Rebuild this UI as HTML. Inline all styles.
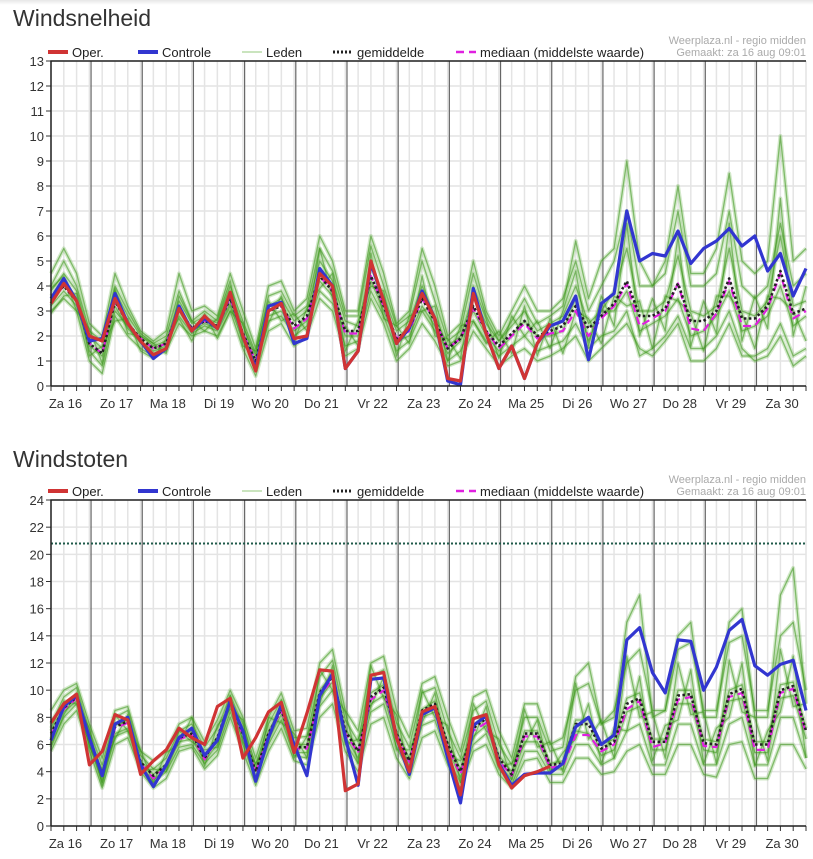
<!DOCTYPE html>
<html><head><meta charset="utf-8">
<style>
body{margin:0;background:#fff;width:813px;height:859px;overflow:hidden;font-family:"Liberation Sans",sans-serif;}
#topbar{position:absolute;left:0;top:0;width:813px;height:5px;background:linear-gradient(#e6e6e6,#fff);}
.title{position:absolute;left:13px;font-size:23px;color:#333;}
svg{position:absolute;left:0;top:0;}
</style></head>
<body>
<div id="topbar"></div>
<div class="title" style="top:5px">Windsnelheid</div>
<div class="title" style="top:446px">Windstoten</div>
<svg id="s" width="813" height="859"></svg>
<script>
const dayLabels=["Za 16","Zo 17","Ma 18","Di 19","Wo 20","Do 21","Vr 22","Za 23","Zo 24","Ma 25","Di 26","Wo 27","Do 28","Vr 29","Za 30"];
// Windsnelheid
const wsOper=[3.3,4.1,3.4,2.0,1.8,3.5,2.5,1.8,1.25,1.5,3.1,2.2,2.8,2.3,3.75,2.0,0.6,3.0,3.3,1.9,2.0,4.5,4.0,0.7,1.4,5.0,3.4,1.7,2.4,3.7,2.7,0.3,0.2,3.7,2.1,0.7,1.6,0.3,1.7,2.5];
const wsCtrl=[3.5,4.3,3.4,1.8,1.9,3.7,2.5,1.8,1.1,1.5,3.2,2.2,2.7,2.3,3.7,2.0,0.7,3.2,3.35,1.7,1.9,4.7,4.0,0.7,1.4,4.9,3.4,1.7,2.3,3.8,2.7,0.2,0.05,3.9,2.1,0.7,1.6,0.3,1.7,2.4,2.6,3.6,1.05,3.3,3.7,7.0,5.0,5.3,5.2,6.2,4.9,5.5,5.8,6.3,5.6,6.0,4.6,5.3,3.6,4.7];
const wsMean=[3.5,4.0,3.4,1.7,1.3,3.4,2.5,1.9,1.5,1.7,3.1,2.3,2.6,2.4,3.5,2.1,1.0,3.0,3.2,2.4,2.8,4.4,3.8,2.2,2.2,4.4,3.2,1.9,2.3,3.5,2.6,1.5,1.9,3.2,2.2,1.6,2.1,2.6,2.0,2.2,2.4,3.2,2.3,2.8,3.3,4.2,2.8,2.8,3.1,4.1,2.6,2.6,3.0,4.3,2.7,2.7,3.2,4.6,2.9,3.1];
const wsMedian=[3.4,4.0,3.4,1.7,1.3,3.4,2.5,1.9,1.5,1.7,3.1,2.3,2.6,2.4,3.5,2.1,1.0,3.0,3.2,2.3,2.7,4.4,3.8,2.1,2.1,4.4,3.2,1.9,2.2,3.5,2.6,1.5,1.9,3.1,2.2,1.5,2.0,2.5,1.9,2.1,2.2,3.0,2.0,2.7,3.2,4.1,2.4,2.7,3.0,4.1,2.3,2.2,2.9,4.2,2.4,2.4,3.1,4.5,2.7,3.0];
const wsM1=[4.5,5.5,4.5,2.5,2,4.5,3.2,2.2,1.8,2.2,4.5,3,3.2,2.8,4.5,3,1.5,4,4.2,3,3.5,6,5,3,3,6,4.5,2.5,3,5.5,4,2,2.5,5,3,2,3,4,3,3,3.5,5,3,4,5,7,4,4,4.5,7,4,4,4.5,7,4,3.5,4,6.5,4,4.5];
const wsM2=[3,3.5,3,1,0.5,2.8,2,1.5,1.2,1.4,2.5,2,2.2,2,3,1.5,0.4,2.2,2.5,1.6,2,3.5,3,1.2,1.5,3.5,2.5,1,1.5,2.5,1.8,0.8,1,2.2,1.5,0.8,1.2,1.5,1,1.2,1.5,2,1,1.5,2,2.5,1.5,1.2,1.8,2.5,1,1,1.5,2.5,1.2,1.2,1.5,2.5,1.2,1.5];
const wsM3=[3.8,4.5,3.8,2,1.5,3.8,2.8,2,1.6,1.8,3.4,2.5,2.8,2.5,3.8,2.4,1.2,3.2,3.5,2.6,3,5,4.2,2.6,2.4,4.8,3.6,2.2,2.6,4,2.8,1.6,2,3.6,2.5,1.8,2.4,3,2.2,2.5,2.8,4,2.5,3,3.8,5.5,3,3,3.4,5.2,3,2.8,3.2,5.5,3,2.8,3.4,6,3.2,3.4];
const wsM4=[3.2,3.8,3.2,1.6,1.2,3.2,2.3,1.8,1.4,1.6,3,2.2,2.5,2.3,3.3,2,0.9,2.8,3,2.2,2.6,4.2,3.6,2,2,4.2,3,1.8,2,3.2,2.4,1.3,1.8,3,2,1.4,2,2.6,2,2,2.2,3.5,1.8,3,3,3.8,2.2,2.5,2.8,3.5,2,2.2,2.8,3.8,2.2,2.4,2.8,4,2.4,2.8];
const wsM5=[4,5,4,2.2,1.8,4,3,2.1,1.7,2,3.8,2.6,3,2.6,4,2.6,1.3,3.6,3.8,2.8,3.2,5.5,4.6,2.8,2.8,5.6,4,2.4,2.8,5,3.4,1.8,2.2,4.5,2.8,1.8,2.6,3.5,2.5,2.8,3.2,5.8,3.5,5,5.5,9,5,4,5,8,4.5,4.5,5.5,8.5,5,4.5,5,10,5,5.5];
const wsM6=[3.6,4.2,3.5,1.4,0.8,3,2.4,1.7,1.3,1.5,2.8,2.1,2.4,2.2,3.2,1.8,0.7,2.6,2.8,2,2.4,3.8,3.3,1.6,1.8,3.8,2.8,1.4,1.8,3,2.2,1,1.4,2.6,1.8,1.2,1.6,2,1.4,1.6,1.8,2.5,1.5,2,2.2,3,1.2,1.5,2,2.8,1.5,1.5,2,3,1.5,1,1.2,2,0.8,1.2];
const wsM7=[3.9,4.4,3.0,2.3,0.9,3.9,2.1,2.0,1.7,1.3,3.6,2.6,2.2,2.7,4.2,1.6,1.4,3.4,2.6,2.9,2.2,5.5,3.5,2.4,1.6,5.3,2.7,2.4,1.7,4.4,2.0,1.9,1.1,4.0,2.7,1.1,2.8,2.0,2.6,1.5,3.0,4.6,1.6,3.6,2.4,6.5,2.0,3.5,2.2,6.0,1.6,3.4,2.1,6.5,1.8,3.6,2.3,7.5,2.0,4.0];
const wsM8=[2.9,3.6,3.7,1.2,1.6,2.6,2.7,1.4,1.1,1.9,2.7,1.8,2.9,1.9,3.0,2.5,0.8,2.5,3.6,1.8,3.1,3.9,4.5,1.4,2.6,4.0,3.8,1.2,2.8,3.0,3.2,1.0,2.4,2.6,1.7,2.2,1.3,3.2,1.2,2.7,1.3,3.0,2.7,1.7,3.6,3.2,3.4,1.5,3.6,3.4,2.9,1.4,3.6,3.6,2.9,1.5,3.6,3.5,3.0,1.8];
const wsTicks=[0,1,2,3,4,5,6,7,8,9,10,11,12,13];
// Windstoten
const wgOper=[7.6,9.0,9.7,4.5,5.5,8.2,7.8,3.8,4.8,5.6,7.2,6.5,6.0,8.8,9.4,5.0,6.5,8.4,9.1,5.4,8.3,11.5,11.4,2.6,3.1,11.1,11.3,6.5,4.0,8.4,8.8,5.5,2.3,7.9,8.2,4.5,2.8,3.7,4.0,4.4];
const wgCtrl=[6.3,8.8,9.6,6.5,3.7,7.5,8.0,4.5,2.9,4.5,6.5,7.2,5.2,6.3,9.2,7.0,3.3,6.5,8.9,6.0,3.7,9.6,11.2,6.5,3.0,10.8,10.9,6.5,3.8,8.2,8.7,5.0,1.7,7.4,8.1,4.6,3.0,3.8,3.9,3.9,4.6,7.3,8.0,6.0,6.7,13.7,14.6,11.3,9.8,13.7,13.6,10.0,11.7,14.4,15.2,11.8,11.1,11.9,12.2,8.5];
const wgMean=[6.8,8.7,9.5,6.5,3.8,7.3,7.7,4.7,3.7,4.5,6.5,6.8,5.0,6.5,9.2,6.8,4.0,6.8,8.6,5.8,5.8,9.8,11.0,7.0,5.5,9.5,10.2,6.8,4.8,8.5,9.0,6.0,4.0,7.2,7.9,5.0,3.8,6.8,6.8,4.5,4.6,7.5,7.5,5.7,6.2,9.0,9.4,6.2,6.2,9.6,9.7,6.1,6.0,9.7,10.1,6.0,6.0,10.0,10.3,7.0];
const wgMedian=[6.7,8.6,9.4,6.4,3.7,7.2,7.6,4.6,3.5,4.4,6.4,6.7,4.9,6.4,9.1,6.7,3.9,6.7,8.5,5.7,5.7,9.6,10.8,6.8,5.4,9.3,10.0,6.7,4.7,8.3,8.8,5.8,3.8,7.0,7.6,4.8,3.7,6.6,6.6,4.3,4.4,6.7,6.7,5.5,6.0,8.6,9.2,5.8,6.1,9.3,9.5,5.9,5.8,9.5,9.8,5.6,5.6,9.8,10.1,6.8];
const wgM1=[8.5,10,10.5,7.5,5,8.5,8.8,5.5,4.8,5.5,7.5,8,6.2,7.8,10,8,5,8,9.8,7,7.2,12,13,8.5,7,12,12.5,8.5,6.5,10.5,11,8,5.5,9.5,10,7,5,9,9,6,6.5,10,10.5,7.5,8.5,12,13,8.5,8.5,13,13.5,8.5,8.5,13.5,14,8.5,8.5,14,15,10];
const wgM2=[5.5,7.5,8.5,5.5,2.8,6,6.5,4,2.8,3.5,5.5,5.8,4.2,5.2,8,5.5,3,5.5,7.2,4.8,4.5,8,9,5.5,4,7.5,8,5,3.5,6.5,7,4.5,2.8,5.5,6,3.8,2.8,4.8,5,3.2,3.2,5,5,3.8,4,5.5,6,3.8,3.8,6,6,3.8,3.6,6,6.2,3.5,3.5,6,6,4.2];
const wgM3=[7,8.8,9.6,6.5,4,7.4,7.8,4.8,3.8,4.6,6.6,7,5.2,6.6,9.2,7,4.2,7,8.8,6,6,10,11.2,7.2,5.6,9.8,10.4,7,5,8.6,9.2,6.2,4.2,7.4,8.2,5.2,4,7,7,4.6,4.8,7.8,7.8,6,6.4,9.4,9.8,6.4,6.4,10,10,6.4,6.2,10,10.4,6.2,6.2,10.4,10.6,7.2];
const wgM4=[6.4,8.4,9.2,6,3.4,6.8,7.2,4.4,3.4,4.2,6.2,6.4,4.8,6,8.8,6.4,3.6,6.4,8.2,5.4,5.4,9.4,10.6,6.6,5,9,9.6,6.4,4.4,8,8.4,5.6,3.6,6.6,7.4,4.6,3.4,6.2,6.2,4.2,4.2,7,6.8,5.2,5.6,8.4,8.8,5.6,5.6,9,9,5.6,5.4,9.2,9.4,5.4,5.4,9.4,9.6,6.4];
const wgM5=[7.5,9.5,10.2,7,4.5,8,8.5,5.2,4.2,5,7,7.5,5.8,7.2,9.6,7.5,4.5,7.5,9.3,6.5,6.6,11,12.2,7.8,6.2,11,11.5,7.6,5.8,9.8,10.2,7,5,8.5,9.2,6,4.5,8,8,5.5,5.8,11,12,7.5,8,15,17,8,8.5,14,15,8,8,15,16,8,8,17,19,9];
const wgM6=[6,8,9,6,3.2,6.6,7,4.2,3.2,4,5.8,6,4.6,5.6,8.4,6,3.4,6,7.8,5.2,5,8.8,10,6.2,4.6,8.4,9,5.8,4,7.4,7.8,5,3.2,6,6.8,4.2,3,5.5,5.5,3.8,3.8,6,6,4.5,5,7,7.5,4.5,4.5,7.5,7.5,4.5,4.5,7.5,8,4.5,4.5,8,8,5];
const wgM7=[7.2,9.2,9.0,7.2,3.0,8.2,7.0,5.6,3.2,5.4,6.0,8.0,4.4,7.4,8.6,7.8,3.4,8.0,7.6,6.8,5.0,11.5,10.0,8.4,4.6,11.8,9.4,8.2,4.0,10.0,8.0,7.4,3.2,9.0,7.0,6.4,3.4,8.6,5.8,6.2,4.0,10.5,6.4,7.8,5.0,12.5,8.0,8.4,5.0,12.0,8.2,8.4,4.6,12.2,8.4,8.0,4.8,13.0,8.8,9.0];
const wgM8=[5.8,8.2,9.8,5.8,4.2,6.4,8.2,4.0,4.2,4.0,7.0,6.2,5.6,5.8,9.6,6.2,4.6,6.2,9.2,5.0,6.6,9.0,11.8,6.0,6.4,8.8,11.0,5.6,5.6,7.6,9.8,5.2,4.8,6.4,8.8,4.4,4.6,6.0,7.8,4.0,5.4,6.4,9.0,4.6,7.2,7.0,11.0,4.8,7.4,7.8,11.5,4.6,7.2,8.0,12.0,4.4,7.0,8.4,12.5,5.0];
const wgTicks=[0,2,4,6,8,10,12,14,16,18,20,22,24];
const wgThreshold=20.8;

const NS="http://www.w3.org/2000/svg";
const svg=document.getElementById('s');
function mk(tag,attrs,parent){const e=document.createElementNS(NS,tag);for(const k in attrs)e.setAttribute(k,attrs[k]);(parent||svg).appendChild(e);return e;}
const X0=51,X1=806,NPTS=60,STEP=(X1-X0)/(NPTS-1);
const DAYW=STEP*4;
function xAt(i){return X0+STEP*i;}

function chart(cfg){
  const g=mk('g',{});
  
  
  const yMax=cfg.ticks[cfg.ticks.length-1];
  const yS=v=>cfg.bottom-(cfg.bottom-cfg.top)*v/yMax;
  const minorStep=cfg.ticks[1]-cfg.ticks[0];
  for(let v=0;v<=yMax;v+=minorStep){
    const l=mk('line',{x1:X0,x2:X1,y1:yS(v),y2:yS(v),stroke:'#e4e4e4','stroke-width':1.5},g);
    
    
  }
  for(let i=0;i<NPTS;i++){
    const l=mk('line',{x1:xAt(i),x2:xAt(i),y1:cfg.top,y2:cfg.bottom,stroke:'#e4e4e4','stroke-width':1.5},g);
    
    
    const t=mk('line',{x1:xAt(i),x2:xAt(i),y1:cfg.bottom,y2:cfg.bottom+5,stroke:'#333','stroke-width':1},g);
    
    
  }
  const firstDay=X0+STEP*3.13;
  for(let k=0;k<14;k++){
    const x=firstDay+DAYW*k;
    const l=mk('line',{x1:x,x2:x,y1:cfg.top,y2:cfg.bottom,stroke:'#666','stroke-width':1.2},g);
    
    
  }
  dayLabels.forEach((d,k)=>{
    const t=mk('text',{x:firstDay+DAYW*(k-0.5),y:cfg.bottom+22,'text-anchor':'middle','font-size':13,fill:'#333'},g);
    t.textContent=d;
    
    
  });
  cfg.ticks.forEach(v=>{
    const t=mk('text',{x:X0-7,y:yS(v)+5,'text-anchor':'end','font-size':13,fill:'#333'},g);
    t.textContent=v;
    
    
    const m=mk('line',{x1:X0-5,x2:X0,y1:yS(v),y2:yS(v),stroke:'#333'},g);
    
    
  });
  function line(arr,attrs,name){
    const d=arr.map((v,i)=>(i?'L':'M')+xAt(i).toFixed(1)+','+yS(v).toFixed(1)).join(' ');
    const p=mk('path',Object.assign({d:d,fill:'none','stroke-linejoin':'round'},attrs),g);
    
    
  }
  cfg.members.forEach(m=>line(m,{stroke:'#6cb64e','stroke-opacity':0.3,'stroke-width':4},'member-band'));
  cfg.members.forEach(m=>line(m,{stroke:'#3a961a','stroke-opacity':0.55,'stroke-width':1.3},'member-line'));
  if(cfg.threshold!==undefined){
    const l=mk('line',{x1:X0,x2:X1,y1:yS(cfg.threshold),y2:yS(cfg.threshold),stroke:'#1f5a4a','stroke-width':2,'stroke-dasharray':'2,2'},g);
    
    
  }
  line(cfg.median,{stroke:'#e020e0','stroke-width':2.2,'stroke-dasharray':'8,5'},'median-line');
  line(cfg.mean,{stroke:'#222','stroke-width':2.6,'stroke-dasharray':'2.5,2.5'},'mean-line');
  line(cfg.ctrl,{stroke:'#3236d0','stroke-width':3.2},'control-line');
  line(cfg.oper,{stroke:'#d03434','stroke-width':3.2},'oper-line');
  const ax=mk('path',{d:`M${X0},${cfg.bottom} L${X0},${cfg.top} L${X1},${cfg.top}`,fill:'none',stroke:'#222','stroke-width':1.5},g);
  
  
  const bx=mk('line',{x1:X0,x2:X1,y1:cfg.bottom,y2:cfg.bottom,stroke:'#222','stroke-width':1.5},g);
  
  
  const ly=cfg.top-9;
  const items=[['Oper.',{stroke:'#d03434','stroke-width':4},48,'legend-oper'],['Controle',{stroke:'#3236d0','stroke-width':4},138,'legend-controle'],['Leden',{stroke:'#b8dca8','stroke-width':1.5},242,'legend-leden'],['gemiddelde',{stroke:'#222','stroke-width':3,'stroke-dasharray':'2,2'},333,'legend-gemiddelde'],['mediaan (middelste waarde)',{stroke:'#e020e0','stroke-width':2.5,'stroke-dasharray':'8,5'},456,'legend-mediaan']];
  items.forEach(it=>{
    const lg=mk('g',{},g);
    
    
    mk('line',Object.assign({x1:it[2],x2:it[2]+20,y1:ly,y2:ly},it[1]),lg);
    const t=mk('text',{x:it[2]+24,y:ly+5,'font-size':13,fill:'#222'},lg);
    t.textContent=it[0];
  });
  const c1=mk('text',{x:806,y:cfg.top-17,'text-anchor':'end','font-size':11,fill:'#aaa'},g);
  c1.textContent='Weerplaza.nl - regio midden';
  
  
  const c2=mk('text',{x:806,y:cfg.top-5,'text-anchor':'end','font-size':11,fill:'#aaa'},g);
  c2.textContent='Gemaakt: za 16 aug 09:01';
  
  
}
chart({name:'windsnelheid-chart',top:61,bottom:386,ticks:wsTicks,oper:wsOper,ctrl:wsCtrl,mean:wsMean,median:wsMedian,members:[wsM1,wsM2,wsM3,wsM4,wsM5,wsM6,wsM7,wsM8]});
chart({name:'windstoten-chart',top:500,bottom:826,ticks:wgTicks,oper:wgOper,ctrl:wgCtrl,mean:wgMean,median:wgMedian,members:[wgM1,wgM2,wgM3,wgM4,wgM5,wgM6,wgM7,wgM8],threshold:wgThreshold});
</script>
</body></html>
